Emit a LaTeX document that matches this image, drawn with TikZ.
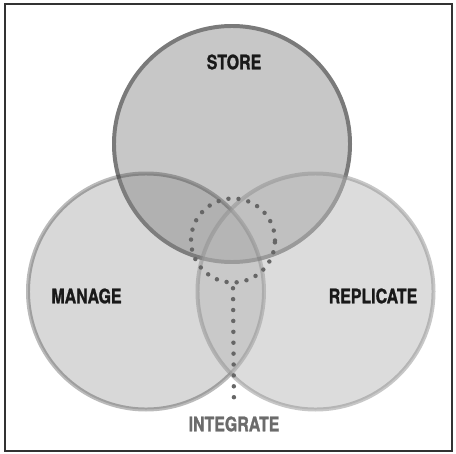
\documentclass[tikz,border=0pt]{standalone}
\usepackage{fontspec}
\setmainfont{TeX Gyre Heros}[FakeStretch=0.8,FakeBold=1.2]
\begin{document}
\begin{tikzpicture}[x=0.03cm,y=-0.03cm,
  ring/.style={circle,minimum size=7.08cm,inner sep=0pt,line width=3.4pt},
  word/.style={font=\bfseries\fontsize{17}{17}\selectfont,text=black!90},
  dots/.style={draw=black!60,line width=3.8pt,line cap=round,dash pattern=on 0pt off 8.6pt}]
 \useasboundingbox (0,0) rectangle (456,453);
 \draw[black!80,line width=1.7pt] (5,4) rectangle (452,451);
 \node[ring,fill=black!22,draw=black!52] (store) at (232,144) {};
 \node[ring,fill=black!48,draw=black!84,opacity=0.32] (manage) at (146,291.5) {};
 \node[ring,fill=black!27,draw=black!44,opacity=0.5] (replicate) at (315.5,291.5) {};
 \node[circle,minimum size=2.52cm,inner sep=0pt,dots] (core) at (233,240.5) {};
 \node[word] (storelbl) at (234,62) {STORE};
 \node[word] (managelbl) at (86.5,296) {MANAGE};
 \node[word] (replicatelbl) at (373,296) {REPLICATE};
 \node[word,text=black!58] (integratelbl) at (234,424) {INTEGRATE};
 \draw[dots,dash pattern=on 0pt off 9.3pt] ([yshift=-3pt]core.south) -- ([yshift=4pt]integratelbl.north);
\end{tikzpicture}
\end{document}
